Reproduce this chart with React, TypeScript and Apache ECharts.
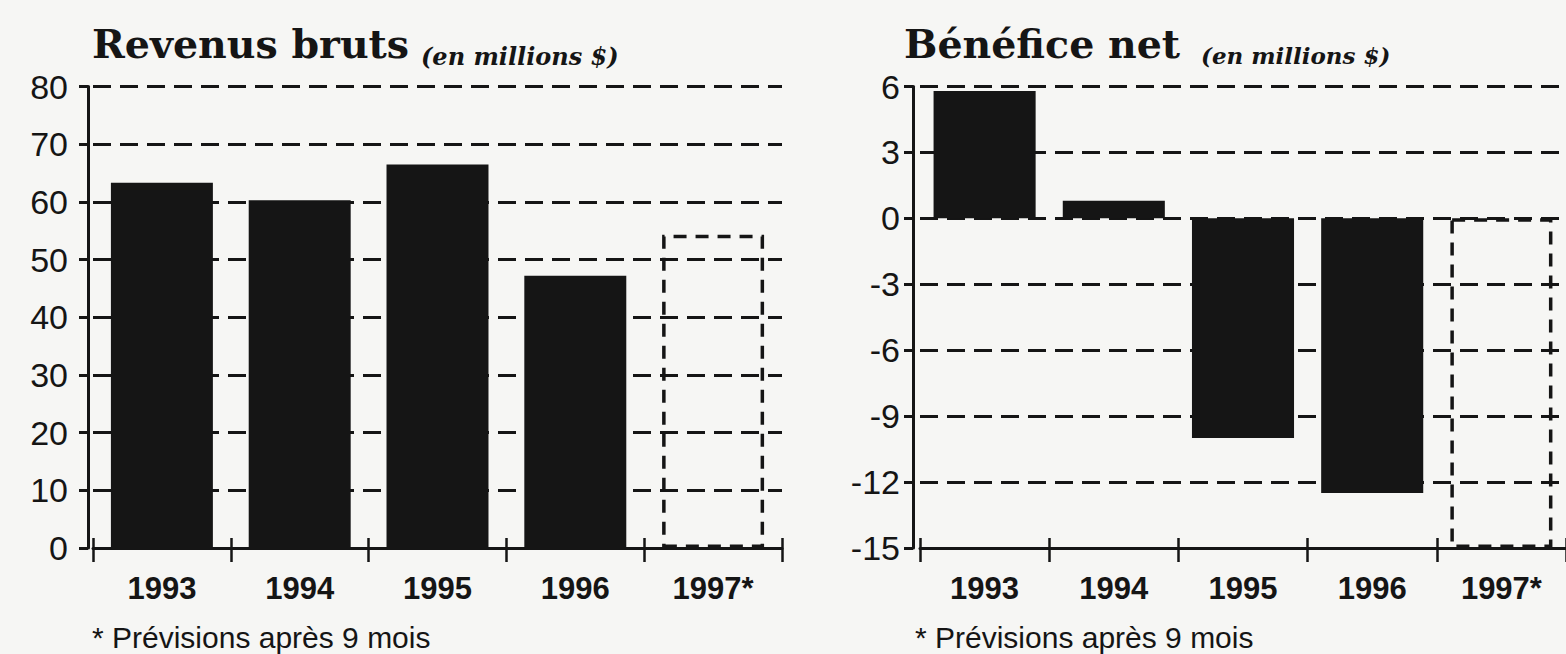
import React, { useEffect, useRef } from "react";
import * as echarts from "echarts";

const years = ["1993", "1994", "1995", "1996", "1997*"];
const revenusValues = [63.3, 60.3, 66.5, 47.2, 54.3];
const beneficeValues = [5.8, 0.8, -10.0, -12.5, -15];
const forecastIndex = 4;
const revenusTicks = [0, 10, 20, 30, 40, 50, 60, 70, 80];
const beneficeTicks = [-15, -12, -9, -6, -3, 0, 3, 6];
const titleLeft = "Revenus bruts";
const titleRight = "Bénéfice net";
const unitText = "(en millions $)";
const footnote = "* Prévisions après 9 mois";

const INK = "#151515";
const PAPER = "#f6f6f4";

function barData(values: number[]) {
  return values.map((v, i) =>
    i === forecastIndex
      ? {
          value: v,
          itemStyle: {
            color: "rgba(0,0,0,0)",
            borderColor: INK,
            borderWidth: 3.5,
            borderType: [13, 9],
          },
        }
      : { value: v }
  );
}

function yAxisFor(grid: number, ticks: number[], offset: number, margin: number) {
  return {
    type: "value",
    gridIndex: grid,
    min: ticks[0],
    max: ticks[ticks.length - 1],
    interval: ticks[1] - ticks[0],
    offset,
    axisLine: { show: true, lineStyle: { color: INK, width: 3 } },
    axisTick: { show: true, length: 9, lineStyle: { color: INK, width: 3 } },
    axisLabel: {
      margin,
      color: INK,
      fontFamily: "'Liberation Sans', Arial, sans-serif",
      fontSize: 34,
    },
    splitLine: {
      show: true,
      lineStyle: { color: INK, width: 3, type: [18, 9] },
    },
  };
}

function xAxesFor(grid: number) {
  return [
    {
      type: "category",
      gridIndex: grid,
      data: years,
      position: "bottom",
      axisLine: { show: true, onZero: false, lineStyle: { color: INK, width: 3 } },
      axisTick: { show: true, length: 14, lineStyle: { color: INK, width: 2.5 } },
      axisLabel: {
        margin: 25,
        color: INK,
        fontFamily: "'Liberation Sans', Arial, sans-serif",
        fontWeight: "bold",
        fontSize: 31,
      },
      splitLine: { show: false },
    },
    {
      type: "category",
      gridIndex: grid,
      data: years,
      position: "bottom",
      axisLine: { show: false, onZero: false },
      axisTick: { show: true, inside: true, length: 10, lineStyle: { color: INK, width: 2.5 } },
      axisLabel: { show: false },
      splitLine: { show: false },
    },
  ];
}

export default function App() {
  const ref = useRef<HTMLDivElement>(null);
  useEffect(() => {
    if (!ref.current) return;
    const chart = echarts.init(ref.current, undefined, { renderer: "svg" });
    const titleFont = "'DejaVu Serif', 'Liberation Serif', serif";
    const unitFont = "'DejaVu Serif', 'Liberation Serif', serif";
    const noteFont = "'Liberation Sans', Arial, sans-serif";
    chart.setOption({
      animation: false,
      backgroundColor: PAPER,
      grid: [
        { left: 93, top: 86.5, width: 689, height: 461.5 },
        { left: 920, top: 86.5, width: 655, height: 461.5 },
      ],
      xAxis: [...xAxesFor(0), ...xAxesFor(1)],
      yAxis: [yAxisFor(0, revenusTicks, 5, 20), yAxisFor(1, beneficeTicks, 7, 13)],
      series: [
        {
          type: "bar",
          xAxisIndex: 0,
          yAxisIndex: 0,
          barWidth: "74%",
          itemStyle: { color: INK },
          data: barData(revenusValues),
        },
        {
          type: "bar",
          xAxisIndex: 2,
          yAxisIndex: 1,
          barWidth: "79%",
          itemStyle: { color: INK },
          data: barData(beneficeValues),
        },
      ],
      graphic: [
        {
          type: "text",
          left: 92,
          top: 24,
          style: { text: titleLeft, fill: INK, font: `bold 39.5px ${titleFont}` },
        },
        {
          type: "text",
          left: 421,
          top: 44,
          style: { text: unitText, fill: INK, font: `italic bold 24px ${unitFont}` },
        },
        {
          type: "text",
          left: 904,
          top: 24,
          style: { text: titleRight, fill: INK, font: `bold 39.5px ${titleFont}` },
        },
        {
          type: "text",
          left: 1201,
          top: 44,
          style: { text: unitText, fill: INK, font: `italic bold 23px ${unitFont}` },
        },
        {
          type: "text",
          left: 92,
          top: 622,
          style: { text: footnote, fill: INK, font: `30px ${noteFont}` },
        },
        {
          type: "text",
          left: 915,
          top: 622,
          style: { text: footnote, fill: INK, font: `30px ${noteFont}` },
        },
      ],
    });
    return () => chart.dispose();
  }, []);
  return (
    <div
      ref={ref}
      style={{ position: "fixed", left: 0, top: 0, width: 1566, height: 654 }}
    />
  );
}
